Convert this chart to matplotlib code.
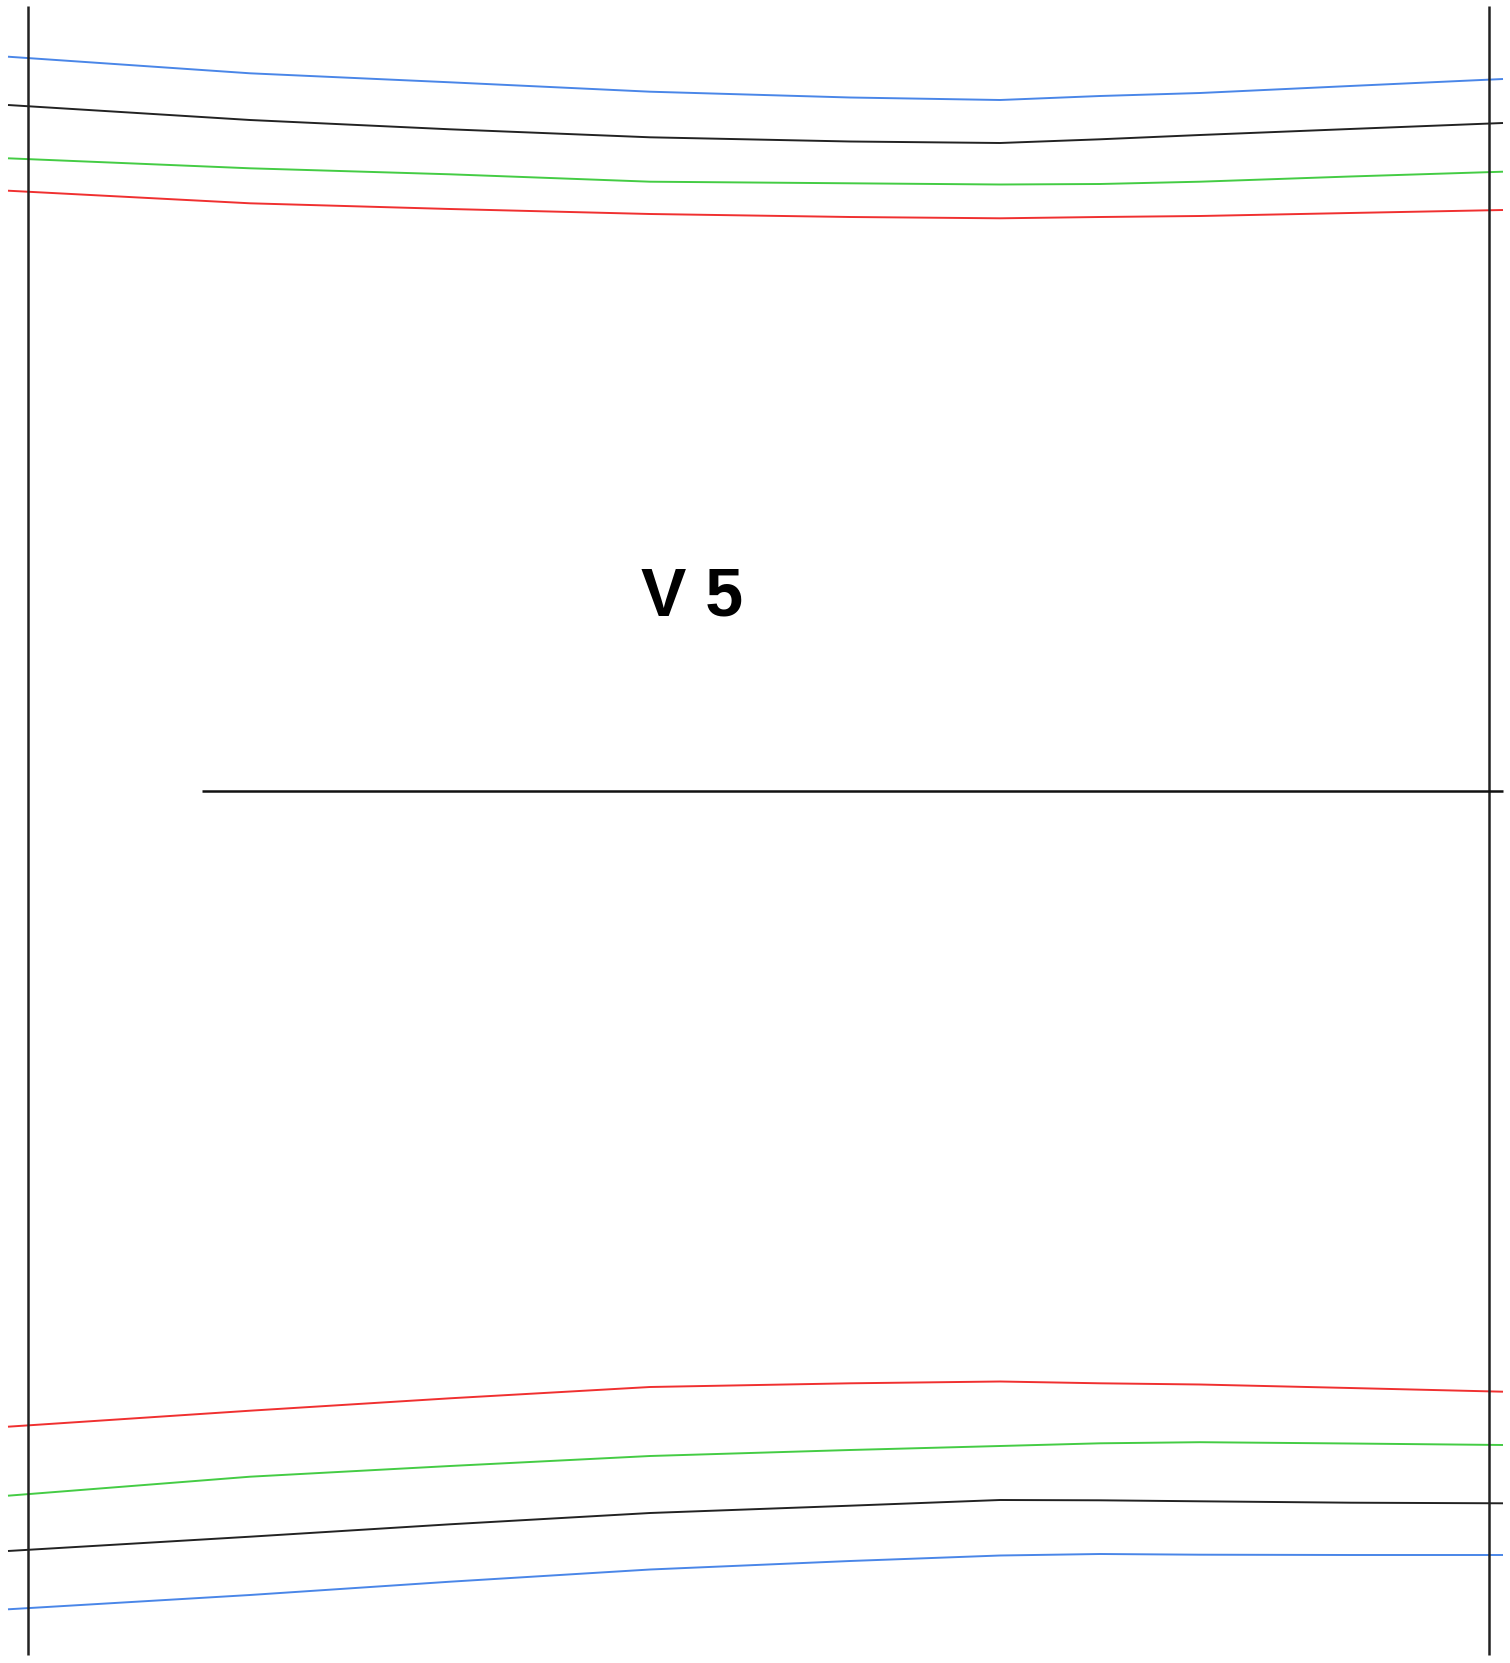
import matplotlib
matplotlib.use("Agg")
import matplotlib.pyplot as plt

# --- данные (в единицах пикселей исходной картинки) ---
x_pts = [8, 250, 450, 650, 850, 1000, 1100, 1200, 1350, 1503]

# верхняя группа линий
blue_top = [56.7, 73.3, 82.3, 91.7, 97.5, 100.0, 96.0, 93.0, 86.0, 79.0]
black_top = [105.0, 120.0, 129.3, 137.3, 141.5, 143.0, 139.3, 135.0, 129.0, 123.0]
green_top = [158.3, 168.3, 174.3, 181.7, 183.3, 184.5, 184.0, 181.7, 176.5, 171.7]
red_top = [190.7, 203.3, 209.0, 214.0, 217.0, 218.3, 217.0, 216.0, 213.0, 210.0]

# нижняя группа линий
red_bot = [1426.7, 1410.7, 1398.3, 1387.0, 1383.3, 1381.5, 1383.3, 1384.5, 1388.0, 1391.7]
green_bot = [1495.7, 1476.7, 1466.0, 1456.0, 1450.0, 1446.0, 1443.3, 1442.2, 1443.5, 1445.0]
black_bot = [1551.0, 1536.7, 1524.3, 1513.0, 1505.7, 1500.0, 1500.3, 1501.3, 1502.7, 1503.3]
blue_bot = [1609.3, 1595.0, 1581.7, 1569.5, 1561.0, 1555.5, 1554.0, 1554.7, 1555.0, 1555.0]

# рамка и разделитель
frame_x = [28, 1489]
frame_y = (6, 1655)
divider_x = (202, 1503)
divider_y = 791

label_text = "V 5"
label_pos = (692, 597)

COLORS = {
    "blue": "#4a86e8",
    "black": "#222222",
    "green": "#44cc44",
    "red": "#f03030",
}

W, H = 1510, 1663
fig = plt.figure(figsize=(W / 100, H / 100), dpi=100)
ax = fig.add_axes([0, 0, 1, 1])
ax.set_xlim(0, W)
ax.set_ylim(H, 0)
ax.axis("off")

series = [
    (blue_top, "blue"), (black_top, "black"), (green_top, "green"), (red_top, "red"),
    (red_bot, "red"), (green_bot, "green"), (black_bot, "black"), (blue_bot, "blue"),
]
for ys, c in series:
    ax.plot(x_pts, ys, color=COLORS[c], lw=1.4, solid_capstyle="butt")

for fx in frame_x:
    ax.vlines(fx, *frame_y, color="#222222", lw=1.8)

ax.hlines(divider_y, *divider_x, color="#111111", lw=1.8)

ax.text(*label_pos, label_text, ha="center", va="center",
        fontsize=49, fontweight="bold", family=["Liberation Sans", "DejaVu Sans"])

fig.savefig("out.png", dpi=100)
